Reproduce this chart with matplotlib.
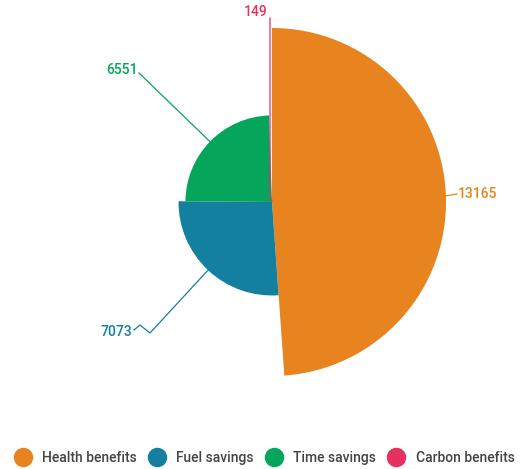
import matplotlib
matplotlib.use("Agg")
import matplotlib.pyplot as plt
from matplotlib.patches import Wedge
from matplotlib.lines import Line2D
import math

categories = ["Health benefits", "Fuel savings", "Time savings", "Carbon benefits"]
values = [13165, 7073, 6551, 149]
colors = ["#E8841F", "#13809F", "#05A65B", "#E6305E"]

W, H = 529, 469
CX, CY = 272, 202
RMAX = 174

plt.rcParams['font.family'] = ['Roboto', 'DejaVu Sans']
fig = plt.figure(figsize=(W / 100, H / 100), dpi=100)
ax = fig.add_axes([0, 0, 1, 1])
ax.set_xlim(0, W)
ax.set_ylim(H, 0)
ax.axis('off')

total = sum(values)
vmax = max(values)
start = 0.0
mids = []
radii = []
for v, c in zip(values, colors):
    span = v / total * 360.0
    r = v / vmax * RMAX
    w = Wedge((CX, CY), r, start - 90, start + span - 90, facecolor=c, edgecolor='none')
    ax.add_patch(w)
    mids.append(start + span / 2)
    radii.append(r)
    start += span

def edge(i):
    a = math.radians(mids[i])
    return CX + radii[i] * math.sin(a), CY - radii[i] * math.cos(a)

lw = 0.9
fs = 10
# Health
ex, ey = edge(0)
ax.plot([ex, 457], [ey, 194], color=colors[0], lw=lw)
ax.text(458, 194, f"{values[0]}", color=colors[0], fontsize=fs, fontweight='medium', va='center', ha='left')
# Fuel
ex, ey = edge(1)
ax.plot([ex, 150, 140, 134], [ey, 333, 325, 330], color=colors[1], lw=lw)
ax.text(132, 332, f"{values[1]}", color=colors[1], fontsize=fs, fontweight='medium', va='center', ha='right')
# Time
ex, ey = edge(2)
ax.plot([ex, 139], [ey, 73], color=colors[2], lw=lw)
ax.text(138, 70, f"{values[2]}", color=colors[2], fontsize=fs, fontweight='medium', va='center', ha='right')
# Carbon
ex, ey = edge(3)
ax.plot([ex, 270, 270], [ey, ey - 2, 18], color=colors[3], lw=lw)
ax.text(268, 12, f"{values[3]}", color=colors[3], fontsize=fs, fontweight='medium', va='center', ha='right')

handles = [Line2D([], [], marker='o', ms=13, color=c, linestyle='') for c in colors]
fig.legend(handles, categories, loc='center', bbox_to_anchor=(0.5, 1 - 458 / H), ncol=4,
           frameon=False, prop={'size': 10, 'weight': 'medium'}, handletextpad=0.8,
           columnspacing=0.85, labelcolor='#444444', handlelength=1.2)

fig.savefig("out.png", dpi=100)
